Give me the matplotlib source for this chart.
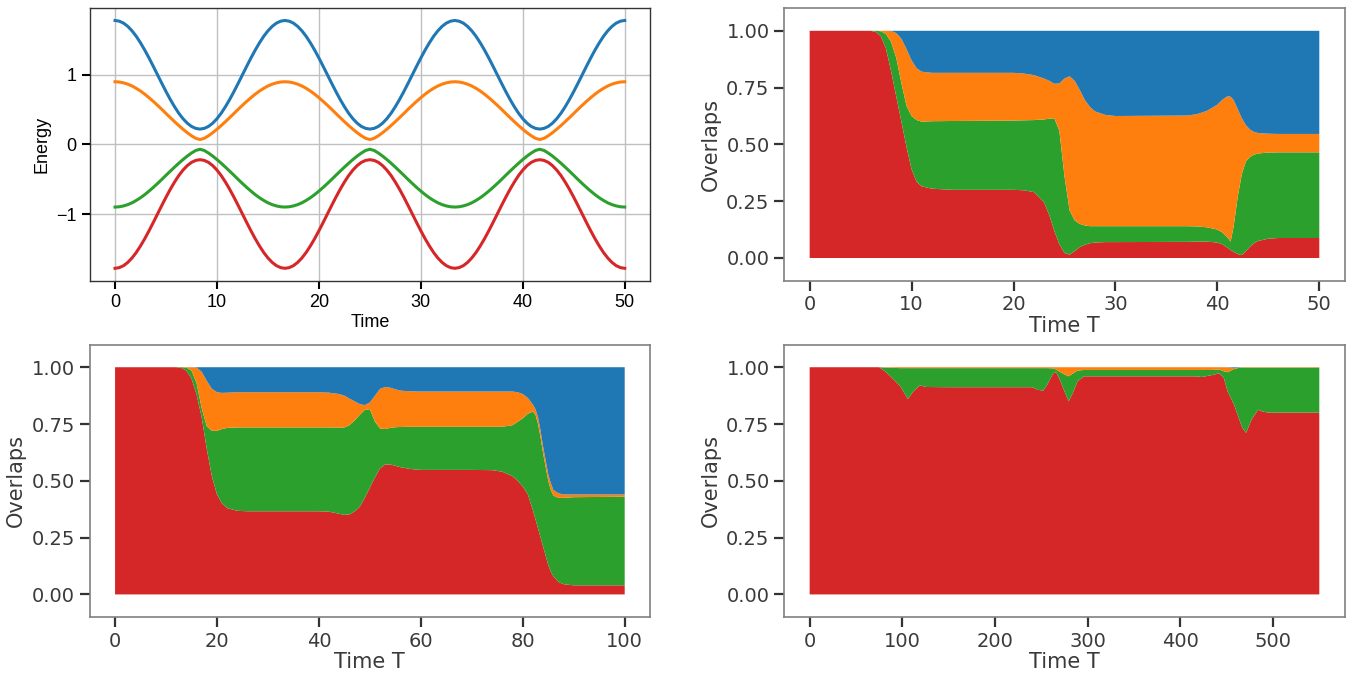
import numpy as np
import matplotlib
matplotlib.use("Agg")
import matplotlib.pyplot as plt
from matplotlib.ticker import FormatStrFormatter

# ---------------- Energy spectrum (top-left) ----------------
time_e = np.linspace(0, 50, 121)
energy_blue = [
    1.78, 1.77, 1.742, 1.695, 1.631, 1.552, 1.458, 1.354, 1.241, 1.122, 1.0, 0.878, 0.759, 0.646, 0.542, 0.448, 0.369, 0.305, 0.258, 0.23,
    0.22, 0.23, 0.258, 0.305, 0.369, 0.448, 0.542, 0.646, 0.759, 0.878, 1.0, 1.122, 1.241, 1.354, 1.458, 1.552, 1.631, 1.695, 1.742, 1.77,
    1.78, 1.77, 1.742, 1.695, 1.631, 1.552, 1.458, 1.354, 1.241, 1.122, 1.0, 0.878, 0.759, 0.646, 0.542, 0.448, 0.369, 0.305, 0.258, 0.23,
    0.22, 0.23, 0.258, 0.305, 0.369, 0.448, 0.542, 0.646, 0.759, 0.878, 1.0, 1.122, 1.241, 1.354, 1.458, 1.552, 1.631, 1.695, 1.742, 1.77,
    1.78, 1.77, 1.742, 1.695, 1.631, 1.552, 1.458, 1.354, 1.241, 1.122, 1.0, 0.878, 0.759, 0.646, 0.542, 0.448, 0.369, 0.305, 0.258, 0.23,
    0.22, 0.23, 0.258, 0.305, 0.369, 0.448, 0.542, 0.646, 0.759, 0.878, 1.0, 1.122, 1.241, 1.354, 1.458, 1.552, 1.631, 1.695, 1.742, 1.77,
    1.78]
energy_orange = [
    0.9, 0.896, 0.884, 0.865, 0.839, 0.805, 0.766, 0.721, 0.671, 0.618, 0.562, 0.504, 0.444, 0.385, 0.327, 0.271, 0.218, 0.168, 0.124, 0.087,
    0.07, 0.087, 0.124, 0.168, 0.218, 0.271, 0.327, 0.385, 0.444, 0.504, 0.562, 0.618, 0.671, 0.721, 0.766, 0.805, 0.839, 0.865, 0.884, 0.896,
    0.9, 0.896, 0.884, 0.865, 0.839, 0.805, 0.766, 0.721, 0.671, 0.618, 0.562, 0.504, 0.444, 0.385, 0.327, 0.271, 0.218, 0.168, 0.124, 0.087,
    0.07, 0.087, 0.124, 0.168, 0.218, 0.271, 0.327, 0.385, 0.444, 0.504, 0.562, 0.618, 0.671, 0.721, 0.766, 0.805, 0.839, 0.865, 0.884, 0.896,
    0.9, 0.896, 0.884, 0.865, 0.839, 0.805, 0.766, 0.721, 0.671, 0.618, 0.562, 0.504, 0.444, 0.385, 0.327, 0.271, 0.218, 0.168, 0.124, 0.087,
    0.07, 0.087, 0.124, 0.168, 0.218, 0.271, 0.327, 0.385, 0.444, 0.504, 0.562, 0.618, 0.671, 0.721, 0.766, 0.805, 0.839, 0.865, 0.884, 0.896,
    0.9]
energy_green = [
    -0.9, -0.896, -0.884, -0.865, -0.839, -0.805, -0.766, -0.721, -0.671, -0.618, -0.562, -0.504, -0.444, -0.385, -0.327, -0.271, -0.218, -0.168, -0.124, -0.087,
    -0.07, -0.087, -0.124, -0.168, -0.218, -0.271, -0.327, -0.385, -0.444, -0.504, -0.562, -0.618, -0.671, -0.721, -0.766, -0.805, -0.839, -0.865, -0.884, -0.896,
    -0.9, -0.896, -0.884, -0.865, -0.839, -0.805, -0.766, -0.721, -0.671, -0.618, -0.562, -0.504, -0.444, -0.385, -0.327, -0.271, -0.218, -0.168, -0.124, -0.087,
    -0.07, -0.087, -0.124, -0.168, -0.218, -0.271, -0.327, -0.385, -0.444, -0.504, -0.562, -0.618, -0.671, -0.721, -0.766, -0.805, -0.839, -0.865, -0.884, -0.896,
    -0.9, -0.896, -0.884, -0.865, -0.839, -0.805, -0.766, -0.721, -0.671, -0.618, -0.562, -0.504, -0.444, -0.385, -0.327, -0.271, -0.218, -0.168, -0.124, -0.087,
    -0.07, -0.087, -0.124, -0.168, -0.218, -0.271, -0.327, -0.385, -0.444, -0.504, -0.562, -0.618, -0.671, -0.721, -0.766, -0.805, -0.839, -0.865, -0.884, -0.896,
    -0.9]
energy_red = [
    -1.78, -1.77, -1.742, -1.695, -1.631, -1.552, -1.458, -1.354, -1.241, -1.122, -1.0, -0.878, -0.759, -0.646, -0.542, -0.448, -0.369, -0.305, -0.258, -0.23,
    -0.22, -0.23, -0.258, -0.305, -0.369, -0.448, -0.542, -0.646, -0.759, -0.878, -1.0, -1.122, -1.241, -1.354, -1.458, -1.552, -1.631, -1.695, -1.742, -1.77,
    -1.78, -1.77, -1.742, -1.695, -1.631, -1.552, -1.458, -1.354, -1.241, -1.122, -1.0, -0.878, -0.759, -0.646, -0.542, -0.448, -0.369, -0.305, -0.258, -0.23,
    -0.22, -0.23, -0.258, -0.305, -0.369, -0.448, -0.542, -0.646, -0.759, -0.878, -1.0, -1.122, -1.241, -1.354, -1.458, -1.552, -1.631, -1.695, -1.742, -1.77,
    -1.78, -1.77, -1.742, -1.695, -1.631, -1.552, -1.458, -1.354, -1.241, -1.122, -1.0, -0.878, -0.759, -0.646, -0.542, -0.448, -0.369, -0.305, -0.258, -0.23,
    -0.22, -0.23, -0.258, -0.305, -0.369, -0.448, -0.542, -0.646, -0.759, -0.878, -1.0, -1.122, -1.241, -1.354, -1.458, -1.552, -1.631, -1.695, -1.742, -1.77,
    -1.78]
energy_yticks = [-1, 0, 1]

# ---------------- Overlaps, T = 50 (top-right) ----------------
t50 = [0, 6, 6.5, 7, 7.5, 8, 8.5, 9, 9.5, 10, 10.5, 11, 12, 14, 20, 21, 22, 23, 23.5, 24, 24.5, 25, 25.5, 26, 26.5,
       27, 27.5, 28, 29, 30, 37, 38, 39, 40, 40.5, 41, 41.3, 41.6, 42, 42.4, 42.8, 43.2, 43.6, 44, 45, 46, 50]
t50_red_top = [1.0, 1.0, 0.995, 0.975, 0.92, 0.82, 0.71, 0.60, 0.49, 0.39, 0.335, 0.315, 0.305, 0.30, 0.30, 0.298, 0.29,
               0.245, 0.19, 0.12, 0.06, 0.022, 0.015, 0.03, 0.048, 0.058, 0.065, 0.068, 0.07, 0.07, 0.071, 0.072, 0.072,
               0.068, 0.06, 0.045, 0.035, 0.027, 0.017, 0.013, 0.03, 0.05, 0.065, 0.075, 0.085, 0.088, 0.088]
t50_green_top = [1.0, 1.0, 1.0, 0.998, 0.985, 0.95, 0.88, 0.77, 0.67, 0.625, 0.607, 0.60, 0.602, 0.603, 0.605, 0.606, 0.607,
                 0.61, 0.613, 0.615, 0.56, 0.36, 0.21, 0.165, 0.15, 0.143, 0.14, 0.14, 0.14, 0.14, 0.14, 0.139, 0.135,
                 0.125, 0.112, 0.09, 0.072, 0.14, 0.27, 0.37, 0.425, 0.445, 0.455, 0.46, 0.464, 0.465, 0.465]
t50_orange_top = [1.0, 1.0, 1.0, 1.0, 1.0, 0.999, 0.99, 0.965, 0.92, 0.87, 0.835, 0.82, 0.815, 0.815, 0.815, 0.812, 0.805,
                  0.79, 0.78, 0.767, 0.768, 0.79, 0.80, 0.78, 0.74, 0.695, 0.665, 0.645, 0.63, 0.625, 0.627, 0.633, 0.648,
                  0.675, 0.697, 0.712, 0.71, 0.695, 0.655, 0.615, 0.585, 0.565, 0.555, 0.55, 0.547, 0.546, 0.546]

# ---------------- Overlaps, T = 100 (bottom-left) ----------------
t100 = [0, 12, 13, 14, 15, 16, 17, 18, 19, 20, 21, 22, 24, 26, 30, 40, 42, 44, 45, 46, 47, 48, 49, 50, 51, 52, 53, 54,
        55, 56, 58, 60, 70, 74, 76, 78, 79, 80, 81, 82, 82.5, 83, 83.5, 84, 84.5, 85, 85.5, 86, 87, 88, 90, 100]
t100_red_top = [1.0, 1.0, 0.997, 0.985, 0.95, 0.88, 0.78, 0.64, 0.52, 0.44, 0.40, 0.38, 0.368, 0.366, 0.366, 0.366,
                0.364, 0.355, 0.35, 0.352, 0.365, 0.385, 0.425, 0.47, 0.515, 0.555, 0.572, 0.572, 0.566, 0.56, 0.552,
                0.548, 0.548, 0.547, 0.54, 0.52, 0.50, 0.475, 0.44, 0.37, 0.33, 0.29, 0.25, 0.21, 0.17, 0.13, 0.10,
                0.08, 0.055, 0.045, 0.04, 0.04]
t100_green_top = [1.0, 1.0, 1.0, 0.998, 0.985, 0.93, 0.82, 0.74, 0.72, 0.72, 0.728, 0.733, 0.735, 0.735, 0.735, 0.735,
                  0.735, 0.734, 0.735, 0.745, 0.765, 0.79, 0.812, 0.815, 0.76, 0.73, 0.728, 0.733, 0.736, 0.737, 0.738,
                  0.738, 0.738, 0.738, 0.738, 0.745, 0.76, 0.775, 0.795, 0.805, 0.79, 0.75, 0.69, 0.62, 0.56, 0.50,
                  0.46, 0.435, 0.425, 0.425, 0.428, 0.43]
t100_orange_top = [1.0, 1.0, 1.0, 1.0, 1.0, 0.998, 0.98, 0.94, 0.905, 0.89, 0.887, 0.888, 0.89, 0.89, 0.89, 0.89,
                   0.888, 0.882, 0.875, 0.862, 0.85, 0.838, 0.833, 0.845, 0.875, 0.905, 0.913, 0.91, 0.903, 0.897,
                   0.894, 0.893, 0.893, 0.893, 0.893, 0.893, 0.89, 0.882, 0.865, 0.835, 0.815, 0.78, 0.72, 0.65,
                   0.59, 0.53, 0.49, 0.46, 0.445, 0.44, 0.44, 0.44]

# ---------------- Overlaps, T = 550 (bottom-right) ----------------
t550 = [0, 75, 82, 91, 98, 106, 112, 119, 126, 150, 200, 240, 247, 252, 256, 263, 266, 270, 275, 279.5, 284, 289,
        296, 300, 350, 416, 423, 435, 442, 447, 451, 458, 463, 467, 471, 477, 484, 488, 495, 550]
t550_red_top = [1.0, 1.0, 0.98, 0.945, 0.915, 0.86, 0.894, 0.92, 0.913, 0.912, 0.912, 0.912, 0.90, 0.897, 0.92,
                0.974, 0.978, 0.945, 0.894, 0.85, 0.886, 0.937, 0.96, 0.96, 0.96, 0.96, 0.957, 0.966, 0.974, 0.952,
                0.894, 0.835, 0.777, 0.733, 0.711, 0.77, 0.813, 0.806, 0.80, 0.80]
t550_green_top = [1.0, 1.0, 0.998, 0.997, 0.996, 0.996, 0.996, 0.996, 0.996, 0.996, 0.996, 0.996, 0.996, 0.996,
                  0.996, 0.995, 0.99, 0.98, 0.968, 0.96, 0.972, 0.985, 0.988, 0.988, 0.988, 0.988, 0.988, 0.988,
                  0.99, 0.982, 0.978, 0.992, 0.997, 0.998, 0.998, 0.998, 0.998, 0.998, 0.998, 0.998]
t550_orange_top = [1.0, 1.0, 1.0, 1.0, 1.0, 1.0, 1.0, 1.0, 1.0, 1.0, 1.0, 1.0, 1.0, 1.0, 1.0, 1.0, 1.0, 1.0, 1.0,
                   1.0, 1.0, 1.0, 1.0, 1.0, 1.0, 1.0, 1.0, 1.0, 1.0, 1.0, 0.999, 0.997, 0.998, 1.0, 1.0, 1.0, 1.0,
                   1.0, 1.0, 1.0]

overlap_yticks = [0.0, 0.25, 0.5, 0.75, 1.0]

C_BLUE, C_ORANGE, C_GREEN, C_RED = "#1f77b4", "#ff7f0e", "#2ca02c", "#d62728"

fig = plt.figure(figsize=(13.57, 6.73), dpi=100)
gs = fig.add_gridspec(2, 2, left=0.066, right=0.991, top=0.988, bottom=0.083,
                      hspace=0.234, wspace=0.239)

# ---- Energy panel ----
ax0 = fig.add_subplot(gs[0, 0])
for vals, col in [(energy_blue, C_BLUE), (energy_orange, C_ORANGE),
                  (energy_green, C_GREEN), (energy_red, C_RED)]:
    ax0.plot(time_e, vals, color=col, lw=2.2, zorder=3)
ax0.set_yticks(energy_yticks)
ax0.grid(True, color="#c0c0c0", lw=1.0)
ax0.set_axisbelow(True)
ax0.set_xlabel("Time", fontsize=13, family="Liberation Sans", color="black", labelpad=2)
ax0.set_ylabel("Energy", fontsize=13, family="Liberation Sans", color="black")
ax0.tick_params(axis="both", direction="out", length=6, width=1.5, color="black",
                labelsize=13, labelcolor="black")
for lab in ax0.get_xticklabels() + ax0.get_yticklabels():
    lab.set_family("Liberation Sans")
for sp in ax0.spines.values():
    sp.set_color("#333333")
    sp.set_linewidth(1.0)


def overlap_panel(ax, t, red_top, green_top, orange_top):
    rt = np.array(red_top)
    gt = np.array(green_top)
    ot = np.array(orange_top)
    red = rt
    green = gt - rt
    orange = ot - gt
    blue = 1.0 - ot
    ax.stackplot(t, red, green, orange, blue,
                 colors=[C_RED, C_GREEN, C_ORANGE, C_BLUE])
    ax.set_ylim(-0.1, 1.1)
    ax.set_yticks(overlap_yticks)
    ax.yaxis.set_major_formatter(FormatStrFormatter("%.2f"))
    ax.set_xlabel("Time T", fontsize=15, color="#3a3a3a", labelpad=1)
    ax.set_ylabel("Overlaps", fontsize=15, color="#3a3a3a")
    ax.tick_params(axis="both", direction="out", length=7, width=1.6, color="#333333",
                   labelsize=14, labelcolor="#3a3a3a")
    for sp in ax.spines.values():
        sp.set_color("#808080")
        sp.set_linewidth(1.2)


ax1 = fig.add_subplot(gs[0, 1])
overlap_panel(ax1, t50, t50_red_top, t50_green_top, t50_orange_top)
ax2 = fig.add_subplot(gs[1, 0])
overlap_panel(ax2, t100, t100_red_top, t100_green_top, t100_orange_top)
ax3 = fig.add_subplot(gs[1, 1])
overlap_panel(ax3, t550, t550_red_top, t550_green_top, t550_orange_top)

fig.savefig("out.png", dpi=100)
